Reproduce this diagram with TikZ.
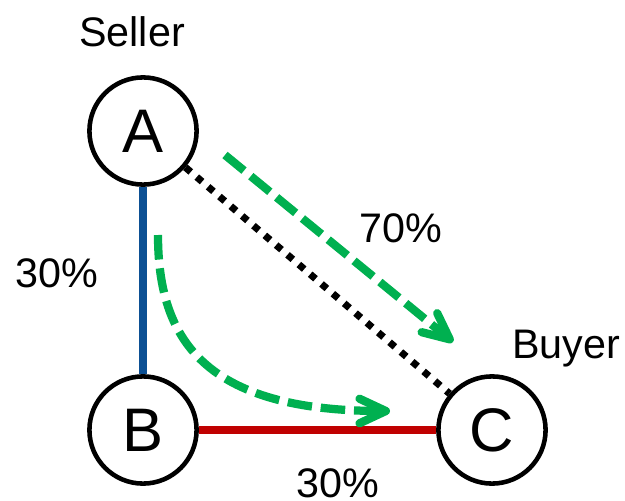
\documentclass[tikz,border=0pt]{standalone}
\usepackage{fontspec}
\setmainfont{Liberation Sans}
\usetikzlibrary{arrows.meta}
\definecolor{flowgreen}{RGB}{0,176,80}
\definecolor{edgeblue}{RGB}{12,80,148}
\definecolor{edgered}{RGB}{192,0,0}
\tikzset{
  party/.style={circle,draw,line width=2.6pt,minimum size=61pt,inner sep=0pt,
    font=\fontsize{35}{40}\selectfont},
  tag/.style={anchor=base,inner sep=0pt,font=\fontsize{23.5}{28}\selectfont},
  flow/.style={flowgreen,line width=4.7pt,dash pattern=on 14pt off 5pt,
    -{Straight Barb[round,length=15pt,width=14pt]}}
}
\begin{document}
\begin{tikzpicture}[x=0.02cm,y=-0.02cm]
\useasboundingbox (0,0) rectangle (625,500);
% --- parties ---
\node[party] (A) at (143,131) {A};
\node[party] (B) at (143,430) {B};
\node[party] (C) at (492,430) {C};
\node[tag] (seller) at (132,47) {Seller};
\node[tag] (buyer) at (566,358) {Buyer};
% --- links ---
\draw[edgeblue,line width=4.3pt] (A) -- (B);
\draw[edgered,line width=4.3pt] (B) -- (C);
\draw[line width=4pt,dash pattern=on 4pt off 4.5pt] (A) -- (C);
% --- flows ---
\coordinate (f1s) at (225,155);
\coordinate (f1e) at (453,342);
\draw[flow] (f1s) -- (f1e);
\coordinate (f2s) at (158,235);
\coordinate (f2e) at (390,411);
\draw[flow] (f2s) .. controls (158,340) and (205,411) .. (f2e);
% --- shares ---
\node[tag] (pAB) at (57,287) {30\%};
\node[tag] (pBC) at (338,497) {30\%};
\node[tag] (pAC) at (401,242) {70\%};
\end{tikzpicture}
\end{document}
